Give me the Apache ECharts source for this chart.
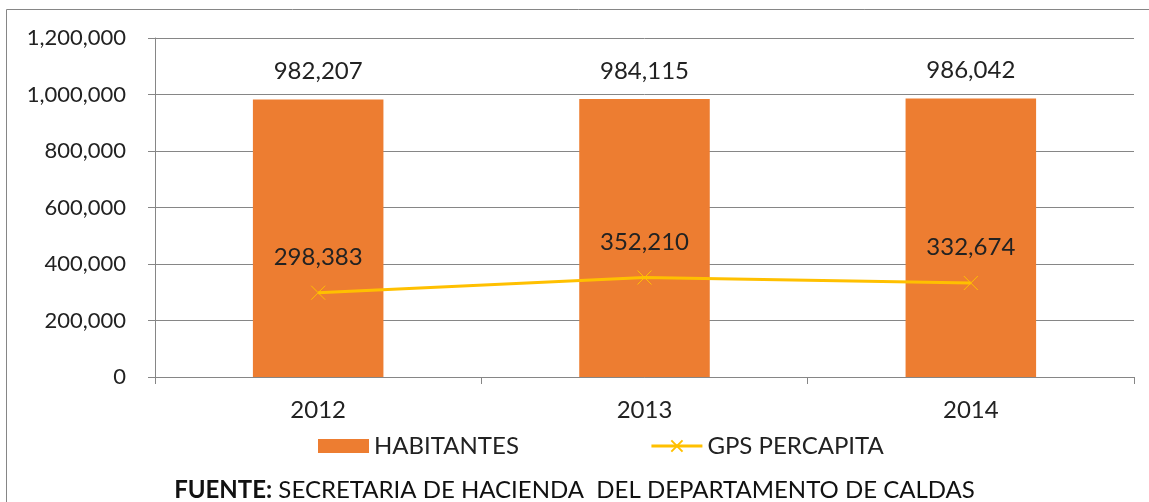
<!DOCTYPE html>
<html><head><meta charset="utf-8">
<script src="https://cdn.jsdelivr.net/npm/echarts@6/dist/echarts.min.js"></script>
<style>html,body{margin:0;padding:0;background:#fff}#c{width:1149px;height:502px}</style>
</head><body><div id="c"></div>
<script>
const categories = ['2012', '2013', '2014'];
const habitantes = [982207, 984115, 986042];
const gpsPercapita = [298383, 352210, 332674];
const yTicks = [0, 200000, 400000, 600000, 800000, 1000000, 1200000];

const fmt = v => v === 0 ? '0' : v.toLocaleString('en-US');
const FONT = 'Lato';
const TXT = '#222';
const crossPath = 'path://M0,0 L10,10 M10,0 L0,10';

const chart = echarts.init(document.getElementById('c'), null, {renderer: 'canvas'});
chart.setOption({
  animation: false,
  backgroundColor: '#fff',
  textStyle: {fontFamily: FONT},
  grid: {left: 155, right: 15, top: 38, bottom: 125},
  xAxis: {
    type: 'category', data: categories,
    axisLine: {lineStyle: {color: '#868686', width: 1}},
    axisTick: {show: true, length: 7, lineStyle: {color: '#868686'}},
    axisLabel: {color: TXT, fontSize: 24, margin: 21, fontFamily: FONT}
  },
  yAxis: {
    type: 'value', min: yTicks[0], max: yTicks[yTicks.length - 1], interval: 200000,
    axisLine: {show: true, lineStyle: {color: '#868686'}},
    axisTick: {show: true, length: 7, lineStyle: {color: '#868686'}},
    splitLine: {lineStyle: {color: '#868686', width: 1}},
    axisLabel: {color: TXT, fontSize: 22, margin: 29, fontFamily: FONT, formatter: fmt}
  },
  legend: {
    top: 429, left: 313, itemGap: 131,
    textStyle: {fontSize: 24, color: TXT, fontFamily: FONT},
    data: [
      {name: 'HABITANTES', icon: 'rect', itemStyle: {color: '#ED7D31'}},
      {name: 'GPS PERCAPITA', lineStyle: {width: 3, color: '#FFC000'}}
    ],
    itemWidth: 51, itemHeight: 14
  },
  series: [
    {
      name: 'HABITANTES', type: 'bar', data: habitantes, barWidth: '40%',
      itemStyle: {color: '#ED7D31'},
      label: {show: true, position: 'top', distance: 16, fontSize: 24, color: TXT, fontFamily: FONT, formatter: p => fmt(p.value)}
    },
    {
      name: 'GPS PERCAPITA', type: 'line', data: gpsPercapita,
      symbol: crossPath, symbolSize: 14,
      lineStyle: {color: '#FFC000', width: 3},
      itemStyle: {color: '#FFC000', borderColor: '#FFC000', borderWidth: 1},
      label: {show: true, position: 'top', distance: 16, fontSize: 24, color: TXT, fontFamily: FONT, formatter: p => fmt(p.value)}
    }
  ],
  graphic: [
    {type: 'rect', shape: {x: 6.5, y: 9.5, width: 1200, height: 600}, style: {fill: null, stroke: '#868686', lineWidth: 1}, silent: true, z: -1},
    {type: 'text', left: 'center', top: 478,
      style: {rich: {b: {fontWeight: 'bold', fontSize: 24, fill: '#111', fontFamily: FONT}, n: {fontSize: 24, fill: '#111', fontFamily: FONT}},
        text: '{b|FUENTE:}{n| SECRETARIA DE HACIENDA  DEL DEPARTAMENTO DE CALDAS}'}}
  ]
});
</script></body></html>
